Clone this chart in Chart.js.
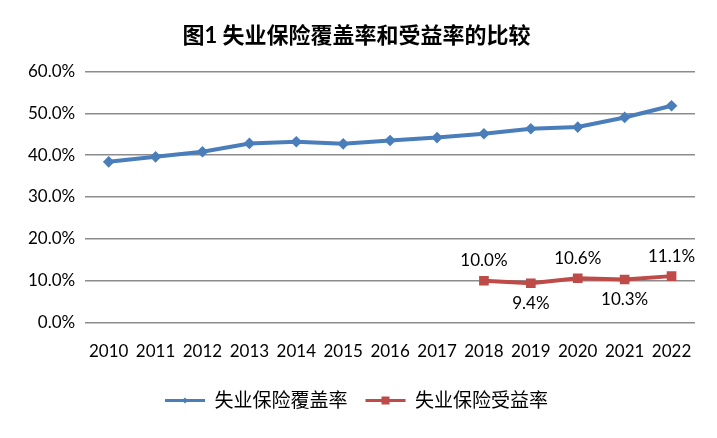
<!DOCTYPE html>
<html>
<head>
<meta charset="utf-8">
<script src="https://cdn.jsdelivr.net/npm/chart.js@4"></script>
<style>
  body { margin: 0; background: #fff; }
  #wrap { width: 717px; height: 438px; }
</style>
</head>
<body>
<div id="wrap"><canvas id="chart" width="717" height="438"></canvas></div>
<script>
// data
const years = ['2010', '2011', '2012', '2013', '2014', '2015', '2016', '2017', '2018', '2019', '2020', '2021', '2022'];
const coverage = [38.4, 39.6, 40.8, 42.8, 43.2, 42.7, 43.5, 44.2, 45.1, 46.3, 46.7, 49.0, 51.8];
const benefit = [null, null, null, null, null, null, null, null, 10.0, 9.4, 10.6, 10.3, 11.1];
const benefitLabelSide = [0, 0, 0, 0, 0, 0, 0, 0, -1, 1, -1, 1, -1]; // -1 above, 1 below
const yTicks = [0, 10, 20, 30, 40, 50, 60];

const fontFam = 'Lato, "Noto Sans CJK SC", sans-serif';

// labels on the red line
const pointLabels = {
    id: 'pointLabels',
    afterDatasetsDraw(chart) {
        const ctx = chart.ctx;
        const meta = chart.getDatasetMeta(1);
        ctx.save();
        ctx.font = '17px ' + fontFam;
        ctx.fillStyle = '#000';
        ctx.textAlign = 'center';
        ctx.textBaseline = 'middle';
        meta.data.forEach((pt, i) => {
            if (benefit[i] == null) return;
            ctx.fillText(benefit[i].toFixed(1) + '%', pt.x, pt.y + benefitLabelSide[i] * 20);
        });
        ctx.restore();
    }
};

// put the marker on top of each legend line
const legendMarkers = {
    id: 'legendMarkers',
    afterDraw(chart) {
        const legend = chart.legend;
        if (!legend || !legend.legendHitBoxes) return;
        const ctx = chart.ctx;
        legend.legendHitBoxes.forEach((box, i) => {
            const ds = chart.data.datasets[i];
            const cx = box.left + legend.options.labels.boxWidth / 2;
            const cy = box.top + box.height / 2;
            ctx.save();
            ctx.fillStyle = ds.borderColor;
            if (i === 0) {
                ctx.beginPath();
                ctx.moveTo(cx, cy - 3); ctx.lineTo(cx + 3, cy); ctx.lineTo(cx, cy + 3); ctx.lineTo(cx - 3, cy);
                ctx.closePath(); ctx.fill();
            } else {
                ctx.fillRect(cx - 4, cy - 4, 8, 8);
            }
            ctx.restore();
        });
    }
};

new Chart(document.querySelector('#chart').getContext('2d'), {
    type: 'line',
    data: {
        labels: years,
        datasets: [
            {
                label: '失业保险覆盖率',
                data: coverage,
                borderColor: '#4a7ebb',
                backgroundColor: '#4a7ebb',
                borderWidth: 4,
                pointStyle: 'rectRot',
                pointRadius: 3,
                tension: 0
            },
            {
                label: '失业保险受益率',
                data: benefit,
                borderColor: '#be4b48',
                backgroundColor: '#be4b48',
                borderWidth: 4,
                pointStyle: 'rect',
                pointRadius: 4,
                tension: 0
            }
        ]
    },
    options: {
        responsive: false,
        animation: false,
        layout: { padding: { left: 18, right: 22, top: 0, bottom: 18 } },
        plugins: {
            title: {
                display: true,
                text: '图1 失业保险覆盖率和受益率的比较',
                color: '#000',
                font: { family: fontFam, size: 22, weight: 'bold' },
                padding: { top: 23, bottom: 22 }
            },
            legend: {
                position: 'bottom',
                labels: {
                    boxWidth: 40,
                    boxHeight: 3,
                    color: '#000',
                    padding: 18,
                    font: { family: fontFam, size: 19 },
                    generateLabels(chart) {
                        return chart.data.datasets.map((ds, i) => ({
                            text: ds.label,
                            fillStyle: ds.borderColor,
                            strokeStyle: ds.borderColor,
                            lineWidth: 0,
                            datasetIndex: i
                        }));
                    }
                }
            },
            tooltip: { enabled: false }
        },
        scales: {
            x: {
                offset: true,
                grid: { display: false },
                border: { display: false },
                ticks: { color: '#000', font: { family: fontFam, size: 17 }, padding: 11, maxRotation: 0 }
            },
            y: {
                min: 0,
                max: 60,
                afterBuildTicks(axis) { axis.ticks = yTicks.map(v => ({ value: v })); },
                grid: { color: '#8c8c8c', lineWidth: 1.5, drawTicks: false },
                border: { display: false },
                ticks: {
                    color: '#000',
                    font: { family: fontFam, size: 17 },
                    padding: 10,
                    callback: v => v.toFixed(1) + '%'
                }
            }
        }
    },
    plugins: [pointLabels, legendMarkers]
});
</script>
</body>
</html>
